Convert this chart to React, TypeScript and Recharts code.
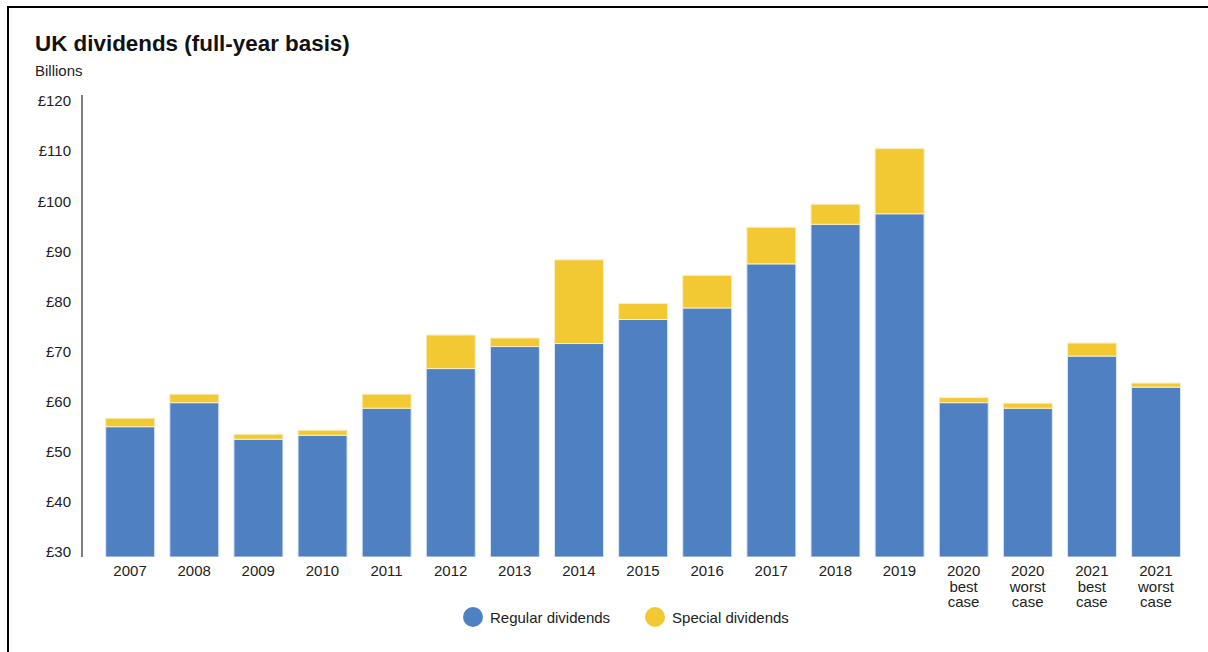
import { Bar, BarChart, Legend, XAxis, YAxis } from "recharts";

const categories = [
  "2007", "2008", "2009", "2010", "2011", "2012", "2013", "2014", "2015", "2016", "2017", "2018", "2019",
  "2020\nbest\ncase", "2020\nworst\ncase", "2021\nbest\ncase", "2021\nworst\ncase",
];
const regular = [55.0, 59.8, 52.5, 53.3, 58.7, 66.6, 71.0, 71.6, 76.4, 78.7, 87.5, 95.4, 97.5, 59.8, 58.7, 69.1, 62.9];
const special = [1.7, 1.7, 1.0, 1.0, 2.8, 6.7, 1.7, 16.7, 3.2, 6.5, 7.3, 4.0, 13.0, 1.0, 1.0, 2.6, 0.8];
const yTicks = [30, 40, 50, 60, 70, 80, 90, 100, 110, 120];

const BLUE = "#4f81c2";
const YELLOW = "#f2c932";
const FONT = "'Liberation Sans', Arial, Helvetica, sans-serif";

const data = categories.map((label, i) => ({ label, regular: regular[i], special: special[i] }));

function CategoryTick({ x, y, payload }: any) {
  const lines = String(payload.value).split("\n");
  return (
    <text x={x} y={y + 19} textAnchor="middle" fontSize={15} fill="#222" fontFamily={FONT}>
      {lines.map((l, i) => (
        <tspan key={i} x={x} dy={i === 0 ? 0 : 15.7}>
          {l}
        </tspan>
      ))}
    </text>
  );
}

function LegendContent() {
  const items = [
    { name: "Regular dividends", color: BLUE },
    { name: "Special dividends", color: YELLOW },
  ];
  return (
    <div style={{ display: "flex", alignItems: "center", fontFamily: FONT, fontSize: 15, color: "#222" }}>
      {items.map((it, i) => (
        <div key={it.name} style={{ display: "flex", alignItems: "center", marginRight: i === 0 ? 35 : 0 }}>
          <span style={{ width: 20, height: 20, borderRadius: 10, background: it.color, marginRight: 7 }} />
          <span>{it.name}</span>
        </div>
      ))}
    </div>
  );
}

export default function App() {
  return (
    <div style={{ position: "fixed", left: 0, top: 0, width: 1208, height: 652, background: "#fff", overflow: "hidden" }}>
      <div style={{ position: "absolute", left: 7, top: 6, width: 1201, height: 2, background: "#000" }} />
      <div style={{ position: "absolute", left: 7, top: 6, width: 2, height: 646, background: "#000" }} />
      <div style={{ position: "absolute", left: 35, top: 33, fontFamily: FONT, fontWeight: 700, fontSize: 22.4, lineHeight: "22px", color: "#111" }}>
        UK dividends (full-year basis)
      </div>
      <div style={{ position: "absolute", left: 35, top: 63, fontFamily: FONT, fontSize: 15, lineHeight: "15px", color: "#222" }}>
        Billions
      </div>
      <div style={{ position: "absolute", left: 0, top: 0 }}>
        <BarChart width={1208} height={652} data={data} margin={{ top: 95, right: 20, bottom: 55, left: 0 }} barCategoryGap="12%">
          <XAxis
            dataKey="label"
            interval={0}
            tickLine={false}
            axisLine={false}
            tickSize={0}
            tickMargin={0}
            height={40}
            padding={{ left: 16, right: 0 }}
            tick={<CategoryTick />}
          />
          <YAxis
            width={82}
            domain={[29, 121.2]}
            allowDataOverflow
            ticks={yTicks}
            tickLine={false}
            tickMargin={5}
            axisLine={{ stroke: "#555", strokeWidth: 1.5 }}
            tickFormatter={(v: number) => `£${v}`}
            tick={{ fontSize: 15, fill: "#222", fontFamily: FONT }}
          />
          <Legend
            layout="horizontal"
            verticalAlign="middle"
            align="center"
            wrapperStyle={{ left: 463, top: 607, width: 360, height: 20 }}
            content={<LegendContent />}
          />
          <Bar dataKey="regular" name="Regular dividends" stackId="a" fill={BLUE} stroke="#dfe8f5" strokeWidth={1} isAnimationActive={false} />
          <Bar dataKey="special" name="Special dividends" stackId="a" fill={YELLOW} stroke="#fbeec0" strokeWidth={1} isAnimationActive={false} />
        </BarChart>
      </div>
    </div>
  );
}
